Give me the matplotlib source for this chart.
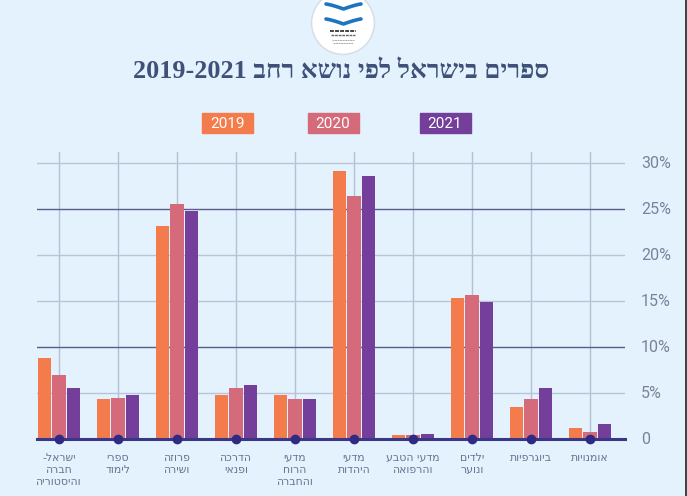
import re
import matplotlib
matplotlib.use("Agg")
import matplotlib.pyplot as plt
from matplotlib.patches import Circle, Rectangle
import numpy as np

# ---------------- data ----------------
categories = [
    "ישראל-\nחברה\nוהיסטוריה",
    "ספרי\nלימוד",
    "פרוזה\nושירה",
    "הדרכה\nופנאי",
    "מדעי\nהרוח\nוהחברה",
    "מדעי\nהיהדות",
    "מדעי הטבע\nוהרפואה",
    "ילדים\nונוער",
    "ביוגרפיות",
    "אומנויות",
]
years = ["2019", "2020", "2021"]
values_2019 = [8.8, 4.3, 23.2, 4.8, 4.8, 29.1, 0.45, 15.3, 3.5, 1.2]
values_2020 = [7.0, 4.5, 25.5, 5.5, 4.4, 26.4, 0.45, 15.7, 4.4, 0.8]
values_2021 = [5.5, 4.8, 24.8, 5.9, 4.4, 28.6, 0.5, 14.9, 5.5, 1.6]
yticks = [0, 5, 10, 15, 20, 25, 30]
ytick_labels = ["0", "5%", "10%", "15%", "20%", "25%", "30%"]
title = "ספרים בישראל לפי נושא רחב 2019-2021"

colors = ["#f47b4b", "#d56a7b", "#733f9b"]
bg = "#e3f2fd"


def visual(s):
    """Convert logical RTL text to visual order for display (line by line)."""
    out = []
    for line in s.split("\n"):
        r = line[::-1]
        r = re.sub(r"[0-9][0-9\-]*[0-9]", lambda m: m.group(0)[::-1], r)
        out.append(r)
    return "\n".join(out)


W, H = 687, 496
fig = plt.figure(figsize=(W / 100, H / 100), dpi=100, facecolor=bg)

# overlay for decoration (pixel coordinates)
ov = fig.add_axes([0, 0, 1, 1], zorder=0)
ov.set_xlim(0, W)
ov.set_ylim(H, 0)
ov.axis("off")
ov.set_facecolor(bg)

# main axes
left_px, right_px, top_px, base_px = 37, 625, 152, 439
ax = fig.add_axes([left_px / W, (H - base_px) / H, (right_px - left_px) / W,
                   (base_px - top_px) / H], zorder=1)
ax.patch.set_alpha(0)
x = np.arange(len(categories))
ax.set_xlim(-0.373, 9.593)
ax.set_ylim(0, 31.2)

# grid
for xi in x:
    ax.axvline(xi, color="#b7bfd3", lw=1.0, zorder=0)
for t in yticks[1:]:
    c = "#5b5b8c" if t in (10, 25) else "#bcc3d8"
    ax.axhline(t, color=c, lw=1.0, zorder=0)

bw = 0.228
step = 0.245
for k, vals in enumerate([values_2019, values_2020, values_2021]):
    ax.bar(x + (k - 1) * step, vals, width=bw, color=colors[k], zorder=2,
           linewidth=0)

ax.axhline(0, color="#3a3886", lw=2.2, zorder=3, clip_on=False)
ax.plot(x, np.zeros_like(x), "o", color="#2f2b85", ms=6, zorder=4,
        clip_on=False)

for s in ax.spines.values():
    s.set_visible(False)
ax.set_xticks([])
ax.set_yticks([])

# y tick labels on right
for t, lab in zip(yticks, ytick_labels):
    ax.text(1.0275, t, lab, transform=ax.get_yaxis_transform(),
            ha="left", va="center", fontsize=11.5, color="#7c819b",
            family=["Roboto", "DejaVu Sans"])

# category labels
for xi, lab in zip(x, categories):
    ax.text(xi, -1.5, visual(lab), ha="center", va="top", fontsize=7.8,
            color="#6c7090", linespacing=1.25,
            family=["DejaVu Sans"])

# title
ov.text(341, 72, visual(title), ha="center", va="center", fontsize=18.8,
        fontweight="bold", color="#3f5179",
        family=["Liberation Serif", "DejaVu Serif", "DejaVu Sans"])

# legend boxes
for cx, yr, c in zip([227.5, 333, 445], years, colors):
    ov.add_patch(Rectangle((cx - 25.5, 113), 51, 20, color=c, zorder=2))
    ov.text(cx, 123.5, yr, ha="center", va="center", color="white",
            fontsize=11, family=["Roboto", "DejaVu Sans"], zorder=3)

# logo
ov.add_patch(Circle((343, 23), 31.5, color="#d5dde6", zorder=2))
ov.add_patch(Circle((343, 23), 30, color="white", zorder=3))
for yy in (5, 20):
    xs = np.linspace(326, 361, 60)
    t = (xs - 343.5) / 17.5
    ys = yy + 4.0 * (1 - np.abs(t)) ** 1.6 - 1.0 * t ** 2
    ov.plot(xs, ys, color="#1f74c0", lw=2.6, solid_capstyle="round", zorder=4)
for yy, w, c, lw in [(31, 26, "#444444", 1.4), (34.5, 24, "#666666", 1.0),
                     (39.5, 22, "#aaaaaa", 0.7), (42.5, 20, "#aaaaaa", 0.7)]:
    ov.plot([343 - w / 2, 343 + w / 2], [yy, yy], color=c, lw=lw, zorder=4,
            ls=(0, (2, 0.6)))

# right border line
ov.plot([686, 686], [0, H], color="#222222", lw=1.2, zorder=5)

fig.savefig("out.png", dpi=100, facecolor=bg)
